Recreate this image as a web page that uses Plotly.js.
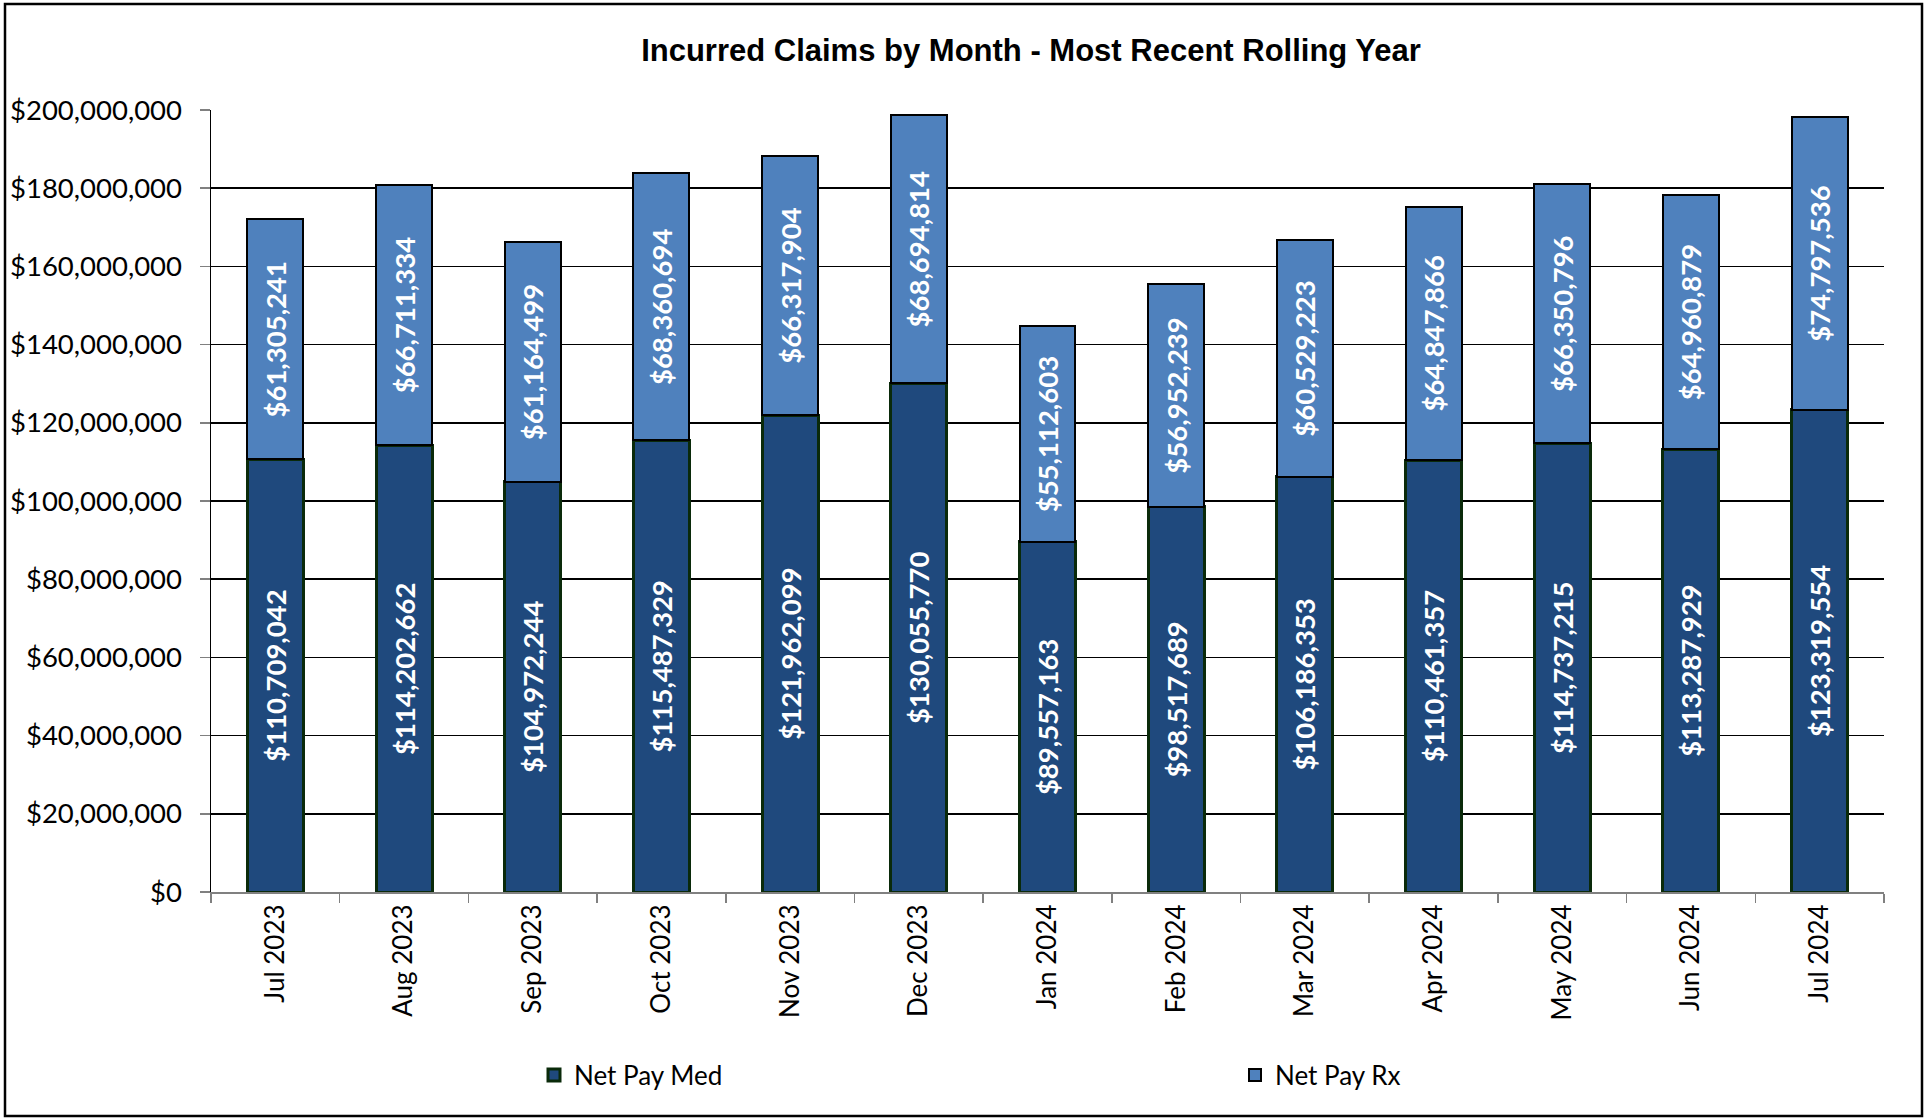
<!DOCTYPE html>
<html>
<head>
<meta charset="utf-8">
<script src="https://cdn.plot.ly/plotly-3.0.1.min.js"></script>
<style>
  html, body { margin: 0; padding: 0; background: #fff; }
  #chart { width: 1929px; height: 1118px; }
</style>
</head>
<body>
<div id="chart"></div>
<script>
const months = ["Jul 2023", "Aug 2023", "Sep 2023", "Oct 2023", "Nov 2023", "Dec 2023",
                "Jan 2024", "Feb 2024", "Mar 2024", "Apr 2024", "May 2024", "Jun 2024", "Jul 2024"];
const netPayMed = [110709042, 114202662, 104972244, 115487329, 121962099, 130055770,
                   89557163, 98517689, 106186353, 110461357, 114737215, 113287929, 123319554];
const netPayRx = [61305241, 66711334, 61164499, 68360694, 66317904, 68694814,
                  55112603, 56952239, 60529223, 64847866, 66350796, 64960879, 74797536];

const fmt = v => "$" + v.toLocaleString("en-US");

const FONT = "Lato, 'Open Sans', sans-serif";
const labelFont = { family: FONT, size: 27.5, color: "#ffffff", weight: "bold" };

const traces = [
  {
    type: "bar", name: "Net Pay Med", x: months, y: netPayMed, legend: "legend",
    text: netPayMed.map(fmt), textposition: "inside", insidetextanchor: "middle",
    textangle: -90, constraintext: "none", textfont: labelFont,
    marker: { color: "#1F497D", line: { color: "#0A2A0A", width: 3 } },
    hoverinfo: "x+y"
  },
  {
    type: "bar", name: "Net Pay Rx", x: months, y: netPayRx, legend: "legend2",
    text: netPayRx.map(fmt), textposition: "inside", insidetextanchor: "middle",
    textangle: -90, constraintext: "none", textfont: labelFont,
    marker: { color: "#4F81BD", line: { color: "#000000", width: 2 } },
    hoverinfo: "x+y"
  }
];

const L = 211, R = 45, T = 110, B = 226;
const W = 1929, H = 1118;
const pw = W - L - R, ph = H - T - B;
const px = x => (x - L) / pw;
const py = y => (H - B - y) / ph;

const legendCommon = {
  orientation: "h", xanchor: "left", y: py(1075), yanchor: "middle",
  itemwidth: 30,
  font: { family: FONT, size: 26, color: "#000000" },
  bgcolor: "rgba(0,0,0,0)"
};

const layout = {
  width: W, height: H,
  margin: { l: L, r: R, t: T, b: B, pad: 0 },
  paper_bgcolor: "#ffffff", plot_bgcolor: "#ffffff",
  barmode: "stack", bargap: 0.565,
  font: { family: FONT, size: 26, color: "#000000" },
  title: {
    text: "Incurred Claims by Month - Most Recent Rolling Year",
    font: { family: "'Liberation Sans', Arial, sans-serif", size: 31, color: "#000000", weight: "bold" },
    xref: "paper", x: px(1031), xanchor: "center",
    yref: "container", y: 1 - 50 / H, yanchor: "middle"
  },
  xaxis: {
    type: "category", tickangle: -90,
    ticks: "outside", tickson: "boundaries", ticklen: 9, tickwidth: 1.5, tickcolor: "#808080",
    showline: true, linecolor: "#808080", linewidth: 2,
    showgrid: false, zeroline: false,
    tickfont: { family: FONT, size: 26, color: "#000000" },
    fixedrange: true
  },
  yaxis: {
    range: [0, 200000000], dtick: 20000000, tick0: 0,
    tickprefix: "$", tickformat: ",.0f",
    ticks: "outside", ticklen: 10, tickwidth: 1.5, tickcolor: "#808080",
    ticklabelstandoff: 12,
    showline: true, linecolor: "#000000", linewidth: 1.5,
    showgrid: true, gridcolor: "#000000", gridwidth: 1.5,
    zeroline: false,
    tickfont: { family: FONT, size: 27.5, color: "#000000" },
    fixedrange: true
  },
  legend: Object.assign({}, legendCommon, { x: px(534) }),
  legend2: Object.assign({}, legendCommon, { x: px(1235) }),
  shapes: [
    { type: "rect", xref: "paper", yref: "paper",
      x0: px(5), x1: px(1922), y0: py(1116), y1: py(4),
      line: { color: "#000000", width: 2.5 }, fillcolor: "rgba(0,0,0,0)", layer: "below" }
  ],
  showlegend: true
};

Plotly.newPlot("chart", traces, layout, { displayModeBar: false, responsive: false, staticPlot: true });
</script>
</body>
</html>
